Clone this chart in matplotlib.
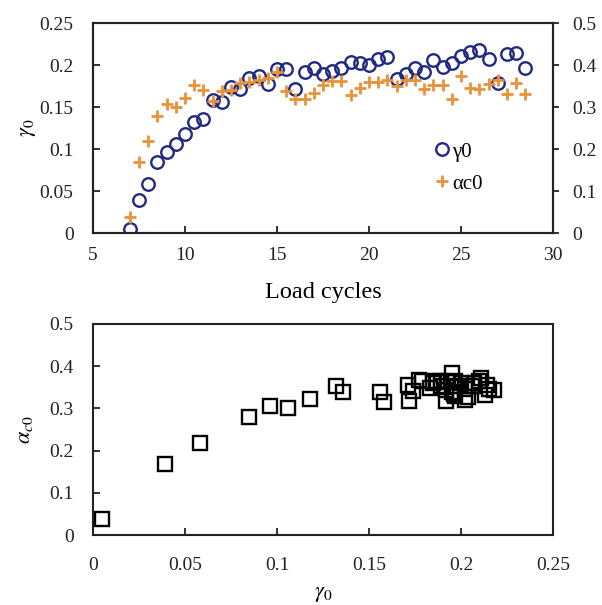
import matplotlib
matplotlib.use("Agg")
import matplotlib.pyplot as plt
from matplotlib.lines import Line2D

plt.rcParams['font.family'] = ['Liberation Serif', 'DejaVu Serif']
plt.rcParams['mathtext.fontset'] = 'stix'

# data
load_cycles = [7.0, 7.5, 8.0, 8.5, 9.0, 9.5, 10.0, 10.5, 11.0, 11.5, 12.0, 12.5,
               13.0, 13.5, 14.0, 14.5, 15.0, 15.5, 16.0, 16.5, 17.0, 17.5, 18.0,
               18.5, 19.0, 19.5, 20.0, 20.5, 21.0, 21.5, 22.0, 22.5, 23.0, 23.5,
               24.0, 24.5, 25.0, 25.5, 26.0, 26.5, 27.0, 27.5, 28.0, 28.5]
gamma0 = [0.005, 0.039, 0.058, 0.085, 0.096, 0.106, 0.118, 0.132, 0.136, 0.158,
          0.156, 0.174, 0.171, 0.185, 0.187, 0.177, 0.195, 0.195, 0.172, 0.192,
          0.196, 0.189, 0.193, 0.196, 0.204, 0.202, 0.200, 0.207, 0.210, 0.183,
          0.189, 0.197, 0.192, 0.206, 0.198, 0.202, 0.211, 0.215, 0.218, 0.207,
          0.179, 0.213, 0.214, 0.197]
alpha_c0 = [0.037, 0.168, 0.218, 0.279, 0.306, 0.300, 0.322, 0.353, 0.340, 0.314,
            0.338, 0.341, 0.356, 0.360, 0.364, 0.368, 0.383, 0.338, 0.318, 0.318,
            0.334, 0.352, 0.362, 0.362, 0.328, 0.346, 0.360, 0.360, 0.364, 0.349,
            0.364, 0.364, 0.344, 0.352, 0.352, 0.320, 0.373, 0.346, 0.344, 0.354,
            0.364, 0.332, 0.356, 0.330]

navy = '#1f2a80'
orange = '#e8923a'

fig = plt.figure(figsize=(6.02, 6.05), dpi=100)
W, H = 602.0, 605.0

# top panel: both series against load cycles
ax1 = fig.add_axes([93 / W, 1 - 233 / H, 460 / W, 210 / H])
ax2 = ax1.twinx()
ax1.plot(load_cycles, gamma0, 'o', ms=9, mfc='none', mec=navy, mew=1.7, ls='none')
ax2.plot(load_cycles, alpha_c0, '+', ms=9, mec=orange, mew=2, ls='none')
ax1.set_xlim(5, 30)
ax1.set_ylim(0, 0.25)
ax2.set_ylim(0, 0.5)
ax1.set_xticks([5, 10, 15, 20, 25, 30])
ax1.set_yticks([0, 0.05, 0.1, 0.15, 0.2, 0.25])
ax1.set_yticklabels(['0', '0.05', '0.1', '0.15', '0.2', '0.25'])
ax2.set_yticks([0, 0.1, 0.2, 0.3, 0.4, 0.5])
ax2.set_yticklabels(['0', '0.1', '0.2', '0.3', '0.4', '0.5'])
ax1.set_xlabel('Load cycles', fontsize=17.5, labelpad=13)
ax1.set_ylabel(r'$\gamma_0$', fontsize=16, labelpad=1)

handles = [Line2D([], [], marker='o', ls='none', ms=9, mfc='none', mec=navy, mew=1.7),
           Line2D([], [], marker='+', ls='none', ms=9, mec=orange, mew=2)]
ax1.legend(handles, ['γ0', 'αc0'], loc='center left', bbox_to_anchor=(0.69, 0.31),
           frameon=False, fontsize=15, handletextpad=-0.1, handlelength=1.2,
           labelspacing=0.6)

# bottom panel: alpha_c0 against gamma0
ax3 = fig.add_axes([93 / W, 1 - 535 / H, 460 / W, 211 / H])
ax3.plot(gamma0, alpha_c0, 's', ms=10, mfc='none', mec='black', mew=1.7, ls='none')
ax3.set_xlim(0, 0.25)
ax3.set_ylim(0, 0.5)
ax3.set_xticks([0, 0.05, 0.1, 0.15, 0.2, 0.25])
ax3.set_xticklabels(['0', '0.05', '0.1', '0.15', '0.2', '0.25'])
ax3.set_yticks([0, 0.1, 0.2, 0.3, 0.4, 0.5])
ax3.set_yticklabels(['0', '0.1', '0.2', '0.3', '0.4', '0.5'])
ax3.set_xlabel(r'$\gamma_0$', fontsize=16, labelpad=8)
ax3.set_ylabel(r'$\alpha_{c0}$', fontsize=16, labelpad=10)

for ax in (ax1, ax2, ax3):
    for s in ax.spines.values():
        s.set_linewidth(1.5)
        s.set_color('#222222')
    ax.tick_params(labelsize=14, width=1.3, length=5, colors='#222222')

ax1.tick_params(axis='both', direction='in')
ax1.tick_params(axis='x', pad=10)
ax1.tick_params(axis='y', pad=14)
ax2.tick_params(axis='y', direction='out', length=4, pad=10)
ax3.tick_params(axis='y', direction='in', pad=14)
ax3.tick_params(axis='x', direction='in', pad=16)

fig.savefig('out.png', dpi=100)
